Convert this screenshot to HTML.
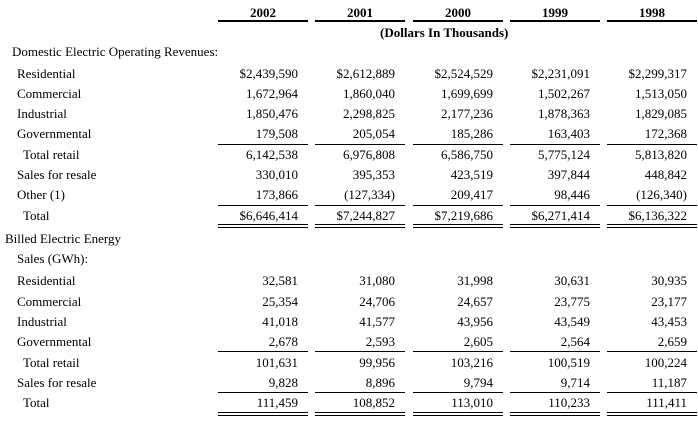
<!DOCTYPE html>
<html><head><meta charset="utf-8">
<style>
body{margin:0;width:698px;height:435px;background:#fff;position:relative;overflow:hidden;font-family:"Liberation Serif",serif;font-size:13px;color:#000}
.t{position:absolute;white-space:nowrap;line-height:15px}
.v{text-align:right;width:90px}
.h{font-weight:bold;text-align:center;width:90px}
.ln{position:absolute;height:0;border-top:1px solid #000}
.hl{position:absolute;height:0;border-top:2px solid #000}
.dl{position:absolute;height:2px;border-top:1px solid #000;border-bottom:1px solid #000}
</style></head><body>
<script>
const years=["2002","2001","2000","1999","1998"];
const colX=[218,315,413,510,607];
const rev=[
["Residential",17,73,["$2,439,590","$2,612,889","$2,524,529","$2,231,091","$2,299,317"]],
["Commercial",17,93,["1,672,964","1,860,040","1,699,699","1,502,267","1,513,050"]],
["Industrial",17,113,["1,850,476","2,298,825","2,177,236","1,878,363","1,829,085"]],
["Governmental",17,133,["179,508","205,054","185,286","163,403","172,368"]],
["Total retail",23,154,["6,142,538","6,976,808","6,586,750","5,775,124","5,813,820"]],
["Sales for resale",17,174,["330,010","395,353","423,519","397,844","448,842"]],
["Other (1)",17,194,["173,866","(127,334)","209,417","98,446","(126,340)"]],
["Total",23,215,["$6,646,414","$7,244,827","$7,219,686","$6,271,414","$6,136,322"]],
["Residential",17,280,["32,581","31,080","31,998","30,631","30,935"]],
["Commercial",17,301,["25,354","24,706","24,657","23,775","23,177"]],
["Industrial",17,321,["41,018","41,577","43,956","43,549","43,453"]],
["Governmental",17,341,["2,678","2,593","2,605","2,564","2,659"]],
["Total retail",23,362,["101,631","99,956","103,216","100,519","100,224"]],
["Sales for resale",17,382,["9,828","8,896","9,794","9,714","11,187"]],
["Total",23,402,["111,459","108,852","113,010","110,233","111,411"]]];
function add(cls,x,y,txt,w){const d=document.createElement('div');d.className=cls;d.style.left=x+'px';d.style.top=y+'px';if(w)d.style.width=w+'px';if(txt!==undefined)d.textContent=txt;document.body.appendChild(d);return d;}
years.forEach((yr,i)=>{const d=add('t h',colX[i],5,yr);


const l=add('hl',colX[i],20,undefined,90);

});
let u=add('t',380,25,'(Dollars In Thousands)');u.style.fontWeight='bold';


[["Domestic Electric Operating Revenues:",12,44],["Billed Electric Energy",5,231],["Sales (GWh):",17,251]].forEach(s=>{const d=add('t',s[1],s[2],s[0]);

});
rev.forEach(r=>{const d=add('t',r[1],r[2]-7,r[0]);


r[3].forEach((v,i)=>{const c=add('t v',colX[i]-10,r[2]-7,v);

});});
[[144,'ln'],[205,'ln'],[224,'dl'],[351,'ln'],[392,'ln'],[412,'dl']].forEach(s=>colX.forEach(x=>{const l=add(s[1],x,s[0],undefined,90);

}));
</script>
</body></html>
